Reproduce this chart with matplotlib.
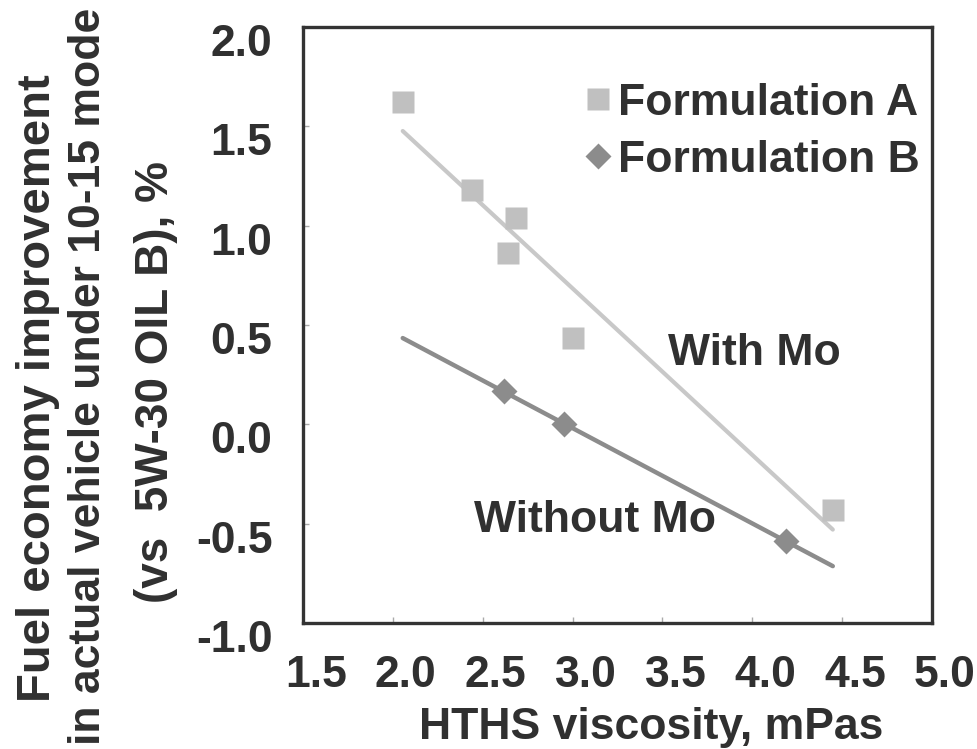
import numpy as np
import matplotlib
matplotlib.use("Agg")
import matplotlib.pyplot as plt
from matplotlib.transforms import ScaledTranslation
from matplotlib.lines import Line2D

# ---- data ----
series_names = ["Formulation A", "Formulation B"]
xA = [2.055, 2.443, 2.687, 2.642, 3.000, 4.448]
yA = [1.625, 1.182, 1.039, 0.863, 0.435, -0.431]
xB = [2.616, 2.955, 4.187]
yB = [0.167, 0.000, -0.588]
line_labels = ["With Mo", "Without Mo"]
xticks = [1.5, 2.0, 2.5, 3.0, 3.5, 4.0, 4.5, 5.0]
xtick_labels = ["1.5", "2.0", "2.5", "3.0", "3.5", "4.0", "4.5", "5.0"]
yticks = [-1.0, -0.5, 0.0, 0.5, 1.0, 1.5, 2.0]
ytick_labels = ["-1.0", "-0.5", "0.0", "0.5", "1.0", "1.5", "2.0"]
xlabel = "HTHS viscosity, mPas"
ylabel_lines = ["Fuel economy improvement",
                "in actual vehicle under 10-15 mode",
                "(vs  5W-30 OIL B), %"]

W, H = 978, 749
DPI = 100
TXT = "#303030"
CA = "#c0c0c0"
CB = "#8c8c8c"
FONT = "Liberation Sans"
FS = 32

plt.rcParams["font.family"] = [FONT, "DejaVu Sans"]
plt.rcParams["font.weight"] = "bold"

fig = plt.figure(figsize=(W / DPI, H / DPI), dpi=DPI)
ax = fig.add_axes([303 / W, 1 - 623 / H, (932 - 303) / W, (623 - 27) / H])

# trend lines (linear fits of data, drawn over the range of A)
xr = np.array([min(xA), max(xA)])
pA = np.polyfit(xA, yA, 1)
pB = np.polyfit(xB, yB, 1)
ax.plot(xr, np.polyval(pA, xr), color="#c8c8c8", lw=3, solid_capstyle="round", zorder=2)
ax.plot(xr, np.polyval(pB, xr), color=CB, lw=3.2, solid_capstyle="round", zorder=2)

ax.plot(xA, yA, ls="none", marker="s", ms=16.3, mfc=CA, mec="none", zorder=3)
ax.plot(xB, yB, ls="none", marker="D", ms=13.2, mfc=CB, mec="none", zorder=3)

ax.set_xlim(1.5, 5.0)
ax.set_ylim(-1.0, 2.0)
ax.set_xticks(xticks)
ax.set_xticklabels(xtick_labels)
ax.set_yticks(yticks)
ax.set_yticklabels(ytick_labels)

for s in ax.spines.values():
    s.set_color("#333333")
    s.set_linewidth(2.4)

ax.tick_params(axis="both", direction="in", length=4, width=1, color="#aaaaaa",
               labelsize=FS, labelcolor=TXT)
ax.tick_params(axis="x", pad=23)
ax.tick_params(axis="y", pad=22)

offx = ScaledTranslation(13 / DPI, 0, fig.dpi_scale_trans)
offy = ScaledTranslation(0, -13 / DPI, fig.dpi_scale_trans)
for lab in ax.get_xticklabels():
    lab.set_transform(lab.get_transform() + offx)
    lab.set_fontweight("bold")
for lab in ax.get_yticklabels():
    lab.set_transform(lab.get_transform() + offy)
    lab.set_fontweight("bold")

# annotations
ax.text(3.531, 0.299, line_labels[0], fontsize=FS, fontweight="bold", color=TXT,
        ha="left", va="baseline")
ax.text(2.454, -0.5415, line_labels[1], fontsize=FS, fontweight="bold", color=TXT,
        ha="left", va="baseline")

# legend
handles = [Line2D([], [], ls="none", marker="s", ms=16.3, mfc=CA, mec="none"),
           Line2D([], [], ls="none", marker="D", ms=13.2, mfc=CB, mec="none")]
leg = ax.legend(handles, series_names, loc="upper left",
                bbox_to_anchor=((585 - 303) / (932 - 303), 1 - (83 - 27) / (623 - 27)),
                frameon=False, prop={"family": FONT, "weight": "bold", "size": FS},
                handlelength=0.6, handletextpad=0.15, labelspacing=0.36,
                borderaxespad=0, borderpad=0, labelcolor=TXT)

# x label
fig.text(419 / W, 1 - 739 / H, xlabel, fontsize=FS, fontweight="bold", color=TXT,
         ha="left", va="baseline")

# y label (three rotated lines)
for xb, yc, fs, t in zip([50, 100, 168], [388, 376, 382], [34, 32, 33], ylabel_lines):
    fig.text(xb / W, 1 - yc / H, t, fontsize=fs, fontweight="bold", color=TXT,
             rotation=90, rotation_mode="anchor", ha="center", va="baseline")

fig.savefig("out.png", dpi=DPI)
